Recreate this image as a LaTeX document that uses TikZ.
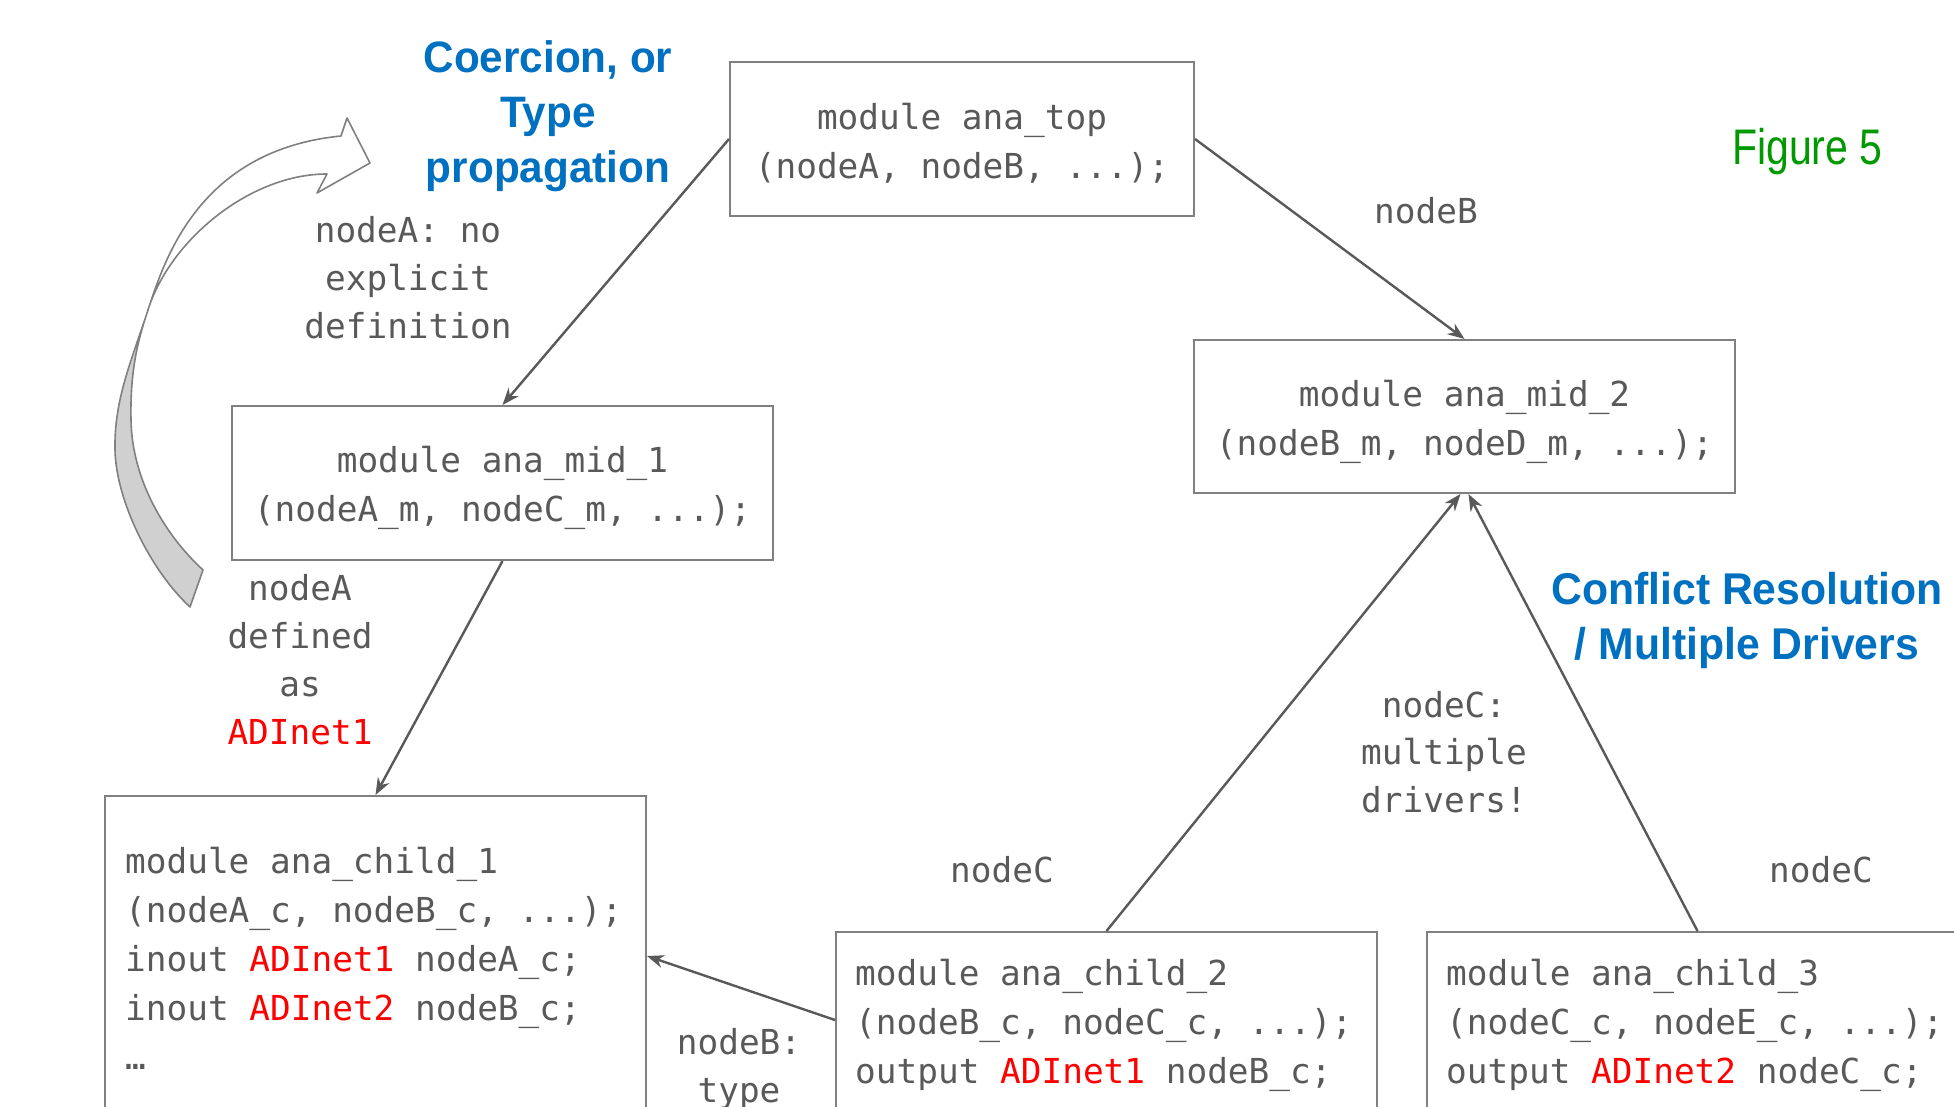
\documentclass[tikz,border=0pt]{standalone}
\usepackage{fontspec}
\setmainfont{Liberation Sans}
\newfontfamily\monof{DejaVu Sans Mono}
\newfontfamily\headf[FakeStretch=0.96]{Liberation Sans}
\newfontfamily\figf[FakeStretch=0.82]{Liberation Sans}
\usetikzlibrary{arrows.meta}
\definecolor{txtgrey}{HTML}{595959}
\definecolor{boxgrey}{HTML}{808080}
\definecolor{arrgrey}{HTML}{595959}
\definecolor{hblue}{HTML}{0070C0}
\definecolor{fgreen}{HTML}{009900}
\definecolor{adired}{HTML}{FF0000}
\definecolor{ribbon}{HTML}{D0D0D0}
\newcommand\mlc[1]{\vtop{\halign{\hfil##\hfil\cr#1\crcr}}}
\newcommand\mll[1]{\vtop{\halign{##\hfil\cr#1\crcr}}}
\newcommand\adi[1]{\textcolor{adired}{#1}}
\begin{document}
\begin{tikzpicture}[x=1pt,y=-1pt,
  modbox/.style={draw=boxgrey,line width=2pt,rectangle,inner sep=0pt,minimum width=541pt},
  code/.style={font=\monof\fontsize{34.4}{49}\selectfont,text=txtgrey,inner sep=0pt},
  lbl/.style={font=\monof\fontsize{34.4}{48}\selectfont,text=txtgrey,inner sep=0pt,anchor=base},
  conn/.style={draw=arrgrey,line width=2.4pt,-{Stealth[length=17pt,width=13pt]}},
  head/.style={text=hblue,inner sep=0pt,anchor=base},
  curl/.style={draw=boxgrey,line width=1.6pt,line join=round}
]
\useasboundingbox (0,0) rectangle (1954,1107);
\clip (0,0) rectangle (1954,1107);

% curved block arrow: back face (grey), then front face (white)
\coordinate (tw) at (148,310);
\path[curl,fill=ribbon] (tw) .. controls (131,362) and (114,400) .. (115,450)
  .. controls (116,500) and (150,570) .. (190,607) -- (203,570)
  .. controls (165,535) and (132,480) .. (131,420)
  .. controls (130,370) and (138,340) .. (tw) -- cycle;
\path[curl,fill=white] (tw) .. controls (165,258) and (200,150) .. (341,136)
  -- (347,118) -- (370,163) -- (317,193) -- (327,174)
  .. controls (250,174) and (170,240) .. (tw) -- cycle;

% module boxes
\node[modbox,minimum width=464pt,minimum height=154pt] (top) at (962,139) {};
\node[modbox,minimum height=154pt] (mid1) at (502.5,483) {};
\node[modbox,minimum height=153pt] (mid2) at (1464.5,416.5) {};
\node[modbox,minimum height=320pt] (child1) at (375.5,956) {};
\node[modbox,minimum height=176pt] (child2) at (1106.5,1020) {};
\node[modbox,minimum height=176pt] (child3) at (1697.5,1020) {};

% box texts
\node[code,anchor=base] (toptxt) at (962,130) {\mlc{module ana\_top\cr(nodeA, nodeB, ...);}};
\node[code,anchor=base] (mid1txt) at (502.5,472) {\mlc{module ana\_mid\_1\cr(nodeA\_m, nodeC\_m, ...);}};
\node[code,anchor=base] (mid2txt) at (1464.5,406) {\mlc{module ana\_mid\_2\cr(nodeB\_m, nodeD\_m, ...);}};
\node[code,anchor=base west] (c1txt) at (125,873) {\mll{module ana\_child\_1\cr(nodeA\_c, nodeB\_c, ...);\cr inout \adi{ADInet1} nodeA\_c;\cr inout \adi{ADInet2} nodeB\_c;\cr …}};
\node[code,anchor=base west] (c2txt) at (855,985) {\mll{module ana\_child\_2\cr(nodeB\_c, nodeC\_c, ...);\cr output \adi{ADInet1} nodeB\_c;}};
\node[code,anchor=base west] (c3txt) at (1446,985) {\mll{module ana\_child\_3\cr(nodeC\_c, nodeE\_c, ...);\cr output \adi{ADInet2} nodeC\_c;}};

% connectors
\draw[conn] (top.west) -- (mid1.north);
\draw[conn] (top.east) -- (mid2.north);
\draw[conn] (mid1.south) -- (child1.north);
\draw[conn] (child2.west) -- (child1.east);
\draw[conn] (child2.north) -- ([xshift=-4pt]mid2.south);
\draw[conn] (child3.north) -- ([xshift=4pt]mid2.south);

% labels
\node[lbl] (lbB) at (1426,224) {nodeB};
\node[lbl] (lbA1) at (408,243) {\mlc{nodeA: no\cr explicit\cr definition}};
\node[lbl] (lbA2) at (300,600) {\mlc{nodeA\cr defined\cr as\cr\adi{ADInet1}}};
\node[lbl,font=\monof\fontsize{34.4}{47.5}\selectfont] (lbC) at (1444,717) {\mlc{nodeC:\cr multiple\cr drivers!}};
\node[lbl] (lbCl) at (1002,882) {nodeC};
\node[lbl] (lbCr) at (1821,882) {nodeC};
\node[lbl] (lbB2) at (739,1054) {\mlc{nodeB:\cr type}};

% headings
\node[head,font=\headf\bfseries\fontsize{44}{55}\selectfont] (coer) at (548,73) {\mlc{Coercion, or\cr Type\cr propagation}};
\node[head,font=\headf\bfseries\fontsize{44.5}{55}\selectfont] (confl) at (1747,604) {\mlc{Conflict Resolution\cr / Multiple Drivers}};
\node[inner sep=0pt,anchor=base west,text=fgreen,font=\figf\fontsize{50}{60}\selectfont] (fig5) at (1732,165) {Figure 5};
\end{tikzpicture}
\end{document}
